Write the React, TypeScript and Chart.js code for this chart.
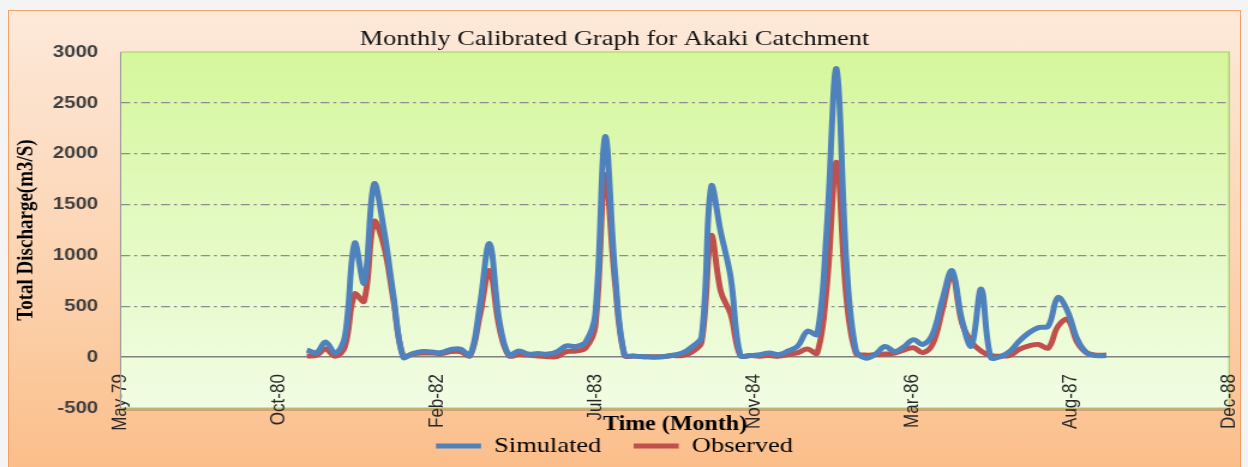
import { useEffect, useRef } from 'react';
import { Chart, registerables } from 'chart.js';

Chart.register(...registerables);

// ---- data ----
const MONTHS = [
  'Jan-81', 'Feb-81', 'Mar-81', 'Apr-81', 'May-81', 'Jun-81', 'Jul-81', 'Aug-81', 'Sep-81', 'Oct-81', 'Nov-81', 'Dec-81',
  'Jan-82', 'Feb-82', 'Mar-82', 'Apr-82', 'May-82', 'Jun-82', 'Jul-82', 'Aug-82', 'Sep-82', 'Oct-82', 'Nov-82', 'Dec-82',
  'Jan-83', 'Feb-83', 'Mar-83', 'Apr-83', 'May-83', 'Jun-83', 'Jul-83', 'Aug-83', 'Sep-83', 'Oct-83', 'Nov-83', 'Dec-83',
  'Jan-84', 'Feb-84', 'Mar-84', 'Apr-84', 'May-84', 'Jun-84', 'Jul-84', 'Aug-84', 'Sep-84', 'Oct-84', 'Nov-84', 'Dec-84',
  'Jan-85', 'Feb-85', 'Mar-85', 'Apr-85', 'May-85', 'Jun-85', 'Jul-85', 'Aug-85', 'Sep-85', 'Oct-85', 'Nov-85', 'Dec-85',
  'Jan-86', 'Feb-86', 'Mar-86', 'Apr-86', 'May-86', 'Jun-86', 'Jul-86', 'Aug-86', 'Sep-86', 'Oct-86', 'Nov-86', 'Dec-86',
  'Jan-87', 'Feb-87', 'Mar-87', 'Apr-87', 'May-87', 'Jun-87', 'Jul-87', 'Aug-87', 'Sep-87', 'Oct-87', 'Nov-87', 'Dec-87',
];

const SIMULATED = [
  70, 45, 150, 40, 200, 1120, 730, 1700, 1260, 620, 0, 35,
  55, 50, 45, 75, 80, 20, 500, 1115, 360, 20, 60, 30,
  35, 30, 50, 110, 105, 150, 420, 2165, 850, 25, 10, 5,
  0, 5, 20, 40, 100, 200, 1675, 1220, 780, 20, 15, 25,
  40, 25, 60, 110, 255, 225, 1250, 2835, 950, 70, -10, 25,
  105, 55, 100, 172, 125, 230, 560, 850, 370, 110, 670, 0,
  5, 60, 158, 240, 290, 306, 586, 450, 174, 40, 15, 15,
];

const OBSERVED = [
  10, 20, 80, 10, 100, 620, 550, 1330, 1100, 570, 10, 30,
  40, 40, 35, 55, 55, 15, 400, 850, 290, 15, 25, 20,
  10, 5, 5, 55, 60, 90, 300, 1790, 750, 20, 10, 5,
  5, 5, 15, 15, 50, 150, 1190, 640, 420, 15, 15, 10,
  15, 10, 25, 45, 80, 40, 680, 1915, 600, 40, 20, 25,
  30, 40, 70, 92, 45, 130, 460, 815, 340, 150, 60, 15,
  10, 20, 76, 110, 125, 90, 300, 370, 142, 40, 20, 20,
];

const MONTH_NAMES = ['Jan', 'Feb', 'Mar', 'Apr', 'May', 'Jun', 'Jul', 'Aug', 'Sep', 'Oct', 'Nov', 'Dec'];
const AXIS_START = Date.UTC(1979, 4, 25); // first tick "May-79"
const X_TICK_STEP_DAYS = 500;
const X_SPAN_DAYS = 3500;
const Y_MIN = -500;
const Y_MAX = 3000;
const Y_STEP = 500;

const TITLE = 'Monthly Calibrated Graph for Akaki Catchment';
const X_TITLE = 'Time (Month)';
const Y_TITLE = 'Total Discharge(m3/S)';

const DAY_MS = 86400000;
function monthToDay(label: string): number {
  const [m, y] = label.split('-');
  return (Date.UTC(1900 + Number(y), MONTH_NAMES.indexOf(m), 1) - AXIS_START) / DAY_MS;
}
function dayToLabel(d: number): string {
  const dt = new Date(AXIS_START + d * DAY_MS);
  return MONTH_NAMES[dt.getUTCMonth()] + '-' + String(dt.getUTCFullYear()).slice(2);
}

const SERIF = '"Liberation Serif", "Times New Roman", serif';
const SANS = '"Liberation Sans", Arial, sans-serif';

const STRETCH = 1.2;
const W = 1040;
const H = 467;

const plotDecor = {
  id: 'plotDecor',
  beforeDraw(chart: any) {
    const { ctx, chartArea: a } = chart;
    ctx.save();
    const g = ctx.createLinearGradient(0, a.top, 0, a.bottom);
    g.addColorStop(0, '#d5f79c');
    g.addColorStop(0.5, '#e4fac2');
    g.addColorStop(1, '#f1fde4');
    ctx.fillStyle = 'rgba(140,100,70,0.35)';
    ctx.fillRect(a.left + 2, a.bottom, a.right - a.left, 3);
    ctx.fillStyle = g;
    ctx.fillRect(a.left, a.top, a.right - a.left, a.bottom - a.top);
    ctx.strokeStyle = '#a9c96a';
    ctx.lineWidth = 1.2;
    ctx.beginPath();
    ctx.moveTo(a.left, a.top);
    ctx.lineTo(a.right, a.top);
    ctx.lineTo(a.right, a.bottom);
    ctx.lineTo(a.left, a.bottom);
    ctx.stroke();
    ctx.restore();
  },
  afterDraw(chart: any) {
    const { ctx, chartArea: a } = chart;
    ctx.save();
    ctx.font = `bold 20px ${SERIF}`;
    ctx.fillStyle = '#000';
    ctx.textAlign = 'center';
    ctx.textBaseline = 'middle';
    ctx.fillText(X_TITLE, (a.left + a.right) / 2, 425);
    ctx.restore();
  },
};

export default function App() {
  const ref = useRef<HTMLCanvasElement | null>(null);

  useEffect(() => {
    if (!ref.current) return;
    const chart = new Chart(ref.current, {
      type: 'line',
      data: {
        datasets: [
          {
            label: 'Simulated',
            data: MONTHS.map((m, i) => ({ x: monthToDay(m), y: SIMULATED[i] })),
            borderColor: '#4f81bd',
            backgroundColor: '#4f81bd',
            borderWidth: 5,
            pointRadius: 0,
            tension: 0.38,
            pointStyle: 'line',
          },
          {
            label: 'Observed',
            data: MONTHS.map((m, i) => ({ x: monthToDay(m), y: OBSERVED[i] })),
            borderColor: '#c0504d',
            backgroundColor: '#c0504d',
            borderWidth: 5,
            pointRadius: 0,
            tension: 0.38,
            pointStyle: 'line',
          },
        ],
      },
      options: {
        responsive: false,
        animation: false,
        devicePixelRatio: 1,
        layout: { padding: { left: 0, right: 15.8, top: 0, bottom: 0 } },
        plugins: {
          title: {
            display: true,
            text: TITLE,
            color: '#111',
            font: { family: SERIF, size: 22, weight: 'normal' },
            padding: { top: 25.6, bottom: 0 },
          },
          legend: {
            display: true,
            position: 'bottom',
            labels: {
              usePointStyle: true,
              pointStyleWidth: 37.5,
              padding: 27,
              color: '#000',
              font: { family: SERIF, size: 22 },
            },
          },
          tooltip: { enabled: false },
        },
        scales: {
          x: {
            type: 'linear',
            position: { y: 0 },
            min: 0,
            max: X_SPAN_DAYS,
            ticks: {
              stepSize: X_TICK_STEP_DAYS,
              autoSkip: false,
              minRotation: 90,
              maxRotation: 90,
              padding: 17,
              color: '#262626',
              font: { family: SANS, size: 17 },
              callback: (v: any) => dayToLabel(Number(v)),
            },
            grid: { display: true, drawOnChartArea: false, drawTicks: false },
            border: { display: true, color: '#808080', width: 1.5 },
            afterFit: (scale: any) => {
              scale.paddingLeft = 0;
              scale.paddingRight = 0;
              scale.paddingTop = 0;
              scale.paddingBottom = 0;
            },
          },
          y: {
            min: Y_MIN,
            max: Y_MAX,
            ticks: {
              stepSize: Y_STEP,
              padding: 19,
              color: '#404040',
              font: { family: SANS, size: 17, weight: 'bold' },
              callback: (v: any) => String(v),
            },
            grid: {
              drawTicks: false,
              lineWidth: 1.3,
              color: (c: any) => {
                const v = c.tick && c.tick.value;
                return v === 0 || v === Y_MIN || v === Y_MAX ? 'rgba(0,0,0,0)' : '#8c8c8c';
              },
            },
            border: { display: true, color: '#9a9a9a', width: 1, dash: [7.5, 3.3, 2.5, 3.3] },
            title: {
              display: true,
              text: Y_TITLE,
              color: '#000',
              font: { family: SERIF, size: 19, weight: 'bold' },
              padding: { top: 11, bottom: 0 },
            },
            afterFit: (scale: any) => {
              scale.width = 100.8;
            },
          },
        },
      },
      plugins: [plotDecor],
    } as any);
    return () => chart.destroy();
  }, []);

  return (
    <div style={{ position: 'absolute', left: 0, top: 0, width: 1248, height: 467, overflow: 'hidden', background: '#f4f4f4' }}>
      <div
        style={{
          position: 'absolute',
          left: 8,
          top: 10,
          width: 1231,
          height: 470,
          border: '1px solid #f5a266',
          background: 'linear-gradient(180deg, #fde9da 0%, #fcd3b0 55%, #fbbd88 100%)',
        }}
      />
      <div style={{ position: 'absolute', left: 0, top: 0, width: W, height: H, transform: `scaleX(${STRETCH})`, transformOrigin: '0 0' }}>
        <canvas ref={ref} width={W} height={H} style={{ display: 'block' }} />
      </div>
    </div>
  );
}
